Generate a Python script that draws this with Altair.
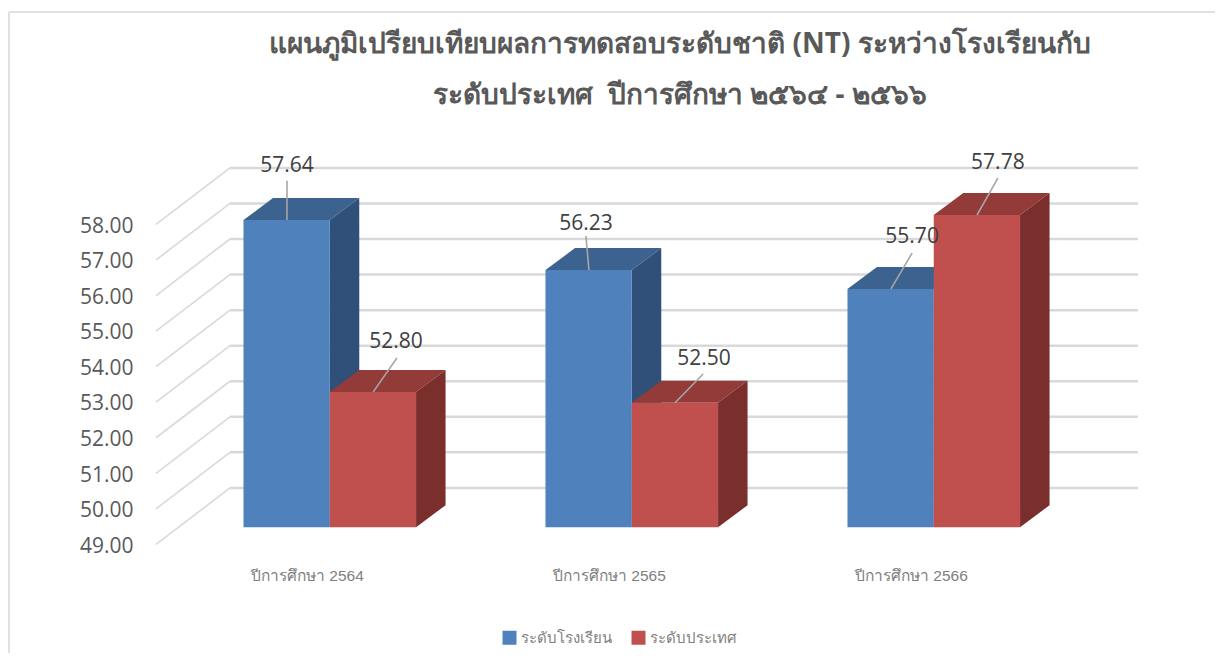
import altair as alt
import pandas as pd

# Values
years = ["ปีการศึกษา 2564", "ปีการศึกษา 2565", "ปีการศึกษา 2566"]
series_names = ["ระดับโรงเรียน", "ระดับประเทศ"]
school = [57.64, 56.23, 55.70]
country = [52.80, 52.50, 57.78]
ticks = [49, 50, 51, 52, 53, 54, 55, 56, 57, 58]
title_lines = ["แผนภูมิเปรียบเทียบผลการทดสอบระดับชาติ (NT) ระหว่างโรงเรียนกับ",
               "ระดับประเทศ\u00a0\u00a0ปีการศึกษา ๒๕๖๔ - ๒๕๖๖"]

# label anchors (group units, value units)
label_x = {"s": [0.144, 1.134, 2.214], "c": [0.505, 1.525, 2.498]}
label_v = {"s": [59.216, 57.585, 57.22], "c": [54.267, 53.789, 59.301]}
lead_x = {"s": [0.144, 1.134, 2.214], "c": [0.508, 1.522, 2.498]}
lead_v = {"s": [58.74, 57.19, 56.71], "c": [53.76, 53.31, 58.82]}
lead_end = {"s": [0.144, 1.144, 2.144], "c": [0.429, 1.429, 2.429]}

BASE = 49.0
W = 0.2857     # bar width in group units
DX = 0.0977    # depth, group units
DV = 0.619     # depth, value units
BACK_V = 1.105
FRONT_V = -0.484
WALL_L = -0.2897
WALL_B = -0.0447
WALL_R = 2.962

GREY = "#D9D9D9"
FRONT = ["#4F81BD", "#C0504D"]
TOP = ["#3C628F", "#933B39"]
SIDE = ["#30507A", "#7A2F2D"]

xs = alt.Scale(domain=[WALL_L, WALL_R], nice=False, zero=False)
ys = alt.Scale(domain=[48.5, 59.608], nice=False, zero=False)

def X(f, **k):
    return alt.X(f, type="quantitative", scale=xs, axis=None, title=None, **k)

def Y(f, **k):
    return alt.Y(f, type="quantitative", scale=ys, axis=None, title=None, stack=None, **k)

# walls
grid = pd.DataFrame({
    "tick": ticks,
    "back": [t + BACK_V for t in ticks],
    "front": [t + FRONT_V for t in ticks],
    "xl": [WALL_L] * len(ticks),
    "xb": [WALL_B] * len(ticks),
    "xr": [WALL_R] * len(ticks),
})
one = pd.DataFrame({"a": [0]})

axis_layer = alt.Chart(grid).mark_point(opacity=0).encode(
    x=alt.X("xb:Q", scale=xs, title=None, axis=alt.Axis(
        values=[0.21, 1.21, 2.21],
        labelExpr="{0.21:'%s',1.21:'%s',2.21:'%s'}[datum.value]" % tuple(years),
        labelFont="Liberation Sans", labelFontSize=15.5, labelColor="#7F7F7F",
        labelPadding=23, ticks=False, domain=False, grid=False)),
    y=alt.Y("tick:Q", scale=ys, title=None, axis=alt.Axis(
        values=ticks, format=".2f", labelFont="Open Sans", labelFontSize=21,
        labelColor="#595959", labelOffset=19, labelPadding=23,
        ticks=False, domain=False, grid=False)),
)

frame_top = alt.Chart(one).mark_rule(color="#E0E0E0", strokeWidth=2).encode(
    x=alt.value(-147), x2=alt.value(1059), y=alt.value(-138))
frame_left = alt.Chart(one).mark_rule(color="#E0E0E0", strokeWidth=2).encode(
    x=alt.value(-147), y=alt.value(-138), y2=alt.value(503))

back_lines = alt.Chart(grid).mark_rule(color=GREY, strokeWidth=2.5).encode(
    x=X("xb"), x2="xr:Q", y=Y("back"))
side_lines = alt.Chart(grid).mark_rule(color=GREY, strokeWidth=1.6).encode(
    x=X("xl"), x2="xb:Q", y=Y("front"), y2="back:Q")

def boxes(vals, start, idx):
    top_rows, side_rows, front_rows = [], [], []
    for i, v in enumerate(vals):
        x0 = i + start
        for x, lo, hi in [(x0, v, v), (x0 + DX, v, v + DV), (x0 + W, v, v + DV), (x0 + W + DX, v + DV, v + DV)]:
            top_rows.append({"g": i, "x": x, "lo": lo, "hi": hi})
        for x, lo, hi in [(x0 + W, BASE, v), (x0 + W + DX, BASE + DV, v + DV)]:
            side_rows.append({"g": i, "x": x, "lo": lo, "hi": hi})
        front_rows.append({"x": x0, "x2": x0 + W, "lo": BASE, "hi": v, "series": series_names[idx]})
    top = alt.Chart(pd.DataFrame(top_rows)).mark_area(color=TOP[idx], interpolate="linear").encode(
        x=X("x"), y=Y("lo"), y2="hi:Q", detail="g:N")
    side = alt.Chart(pd.DataFrame(side_rows)).mark_area(color=SIDE[idx], interpolate="linear").encode(
        x=X("x"), y=Y("lo"), y2="hi:Q", detail="g:N")
    front = alt.Chart(pd.DataFrame(front_rows)).mark_rect().encode(
        x=X("x"), x2="x2:Q", y=Y("lo"), y2="hi:Q",
        color=alt.Color("series:N", title=None,
                        scale=alt.Scale(domain=series_names, range=FRONT),
                        sort=series_names,
                        legend=alt.Legend(orient="none", legendX=346, legendY=480,
                                          direction="horizontal", columns=2,
                                          symbolType="square", symbolSize=196,
                                          symbolStrokeWidth=0, columnPadding=19,
                                          labelFont="Liberation Sans", labelFontSize=15,
                                          labelColor="#7F7F7F")))
    return [top, side, front]

lab_rows = []
for key, vals in (("s", school), ("c", country)):
    for i, v in enumerate(vals):
        lab_rows.append({"value": v, "lx": label_x[key][i], "lv": label_v[key][i],
                         "tx": lead_x[key][i], "tv": lead_v[key][i], "ex": lead_end[key][i]})
labs = pd.DataFrame(lab_rows)

leaders = alt.Chart(labs).mark_rule(color="#A6A6A6", strokeWidth=1.6).encode(
    x=X("tx"), x2="ex:Q", y=Y("tv"), y2="value:Q")
texts = alt.Chart(labs).mark_text(font="Open Sans", fontSize=21, color="#404040", dy=2).encode(
    x=X("lx"), y=Y("lv"), text=alt.Text("value:Q", format=".2f"))

chart = alt.layer(
    axis_layer, frame_top, frame_left, back_lines, side_lines,
    *boxes(school, 0.0, 0), *boxes(country, W, 1),
    leaders, texts,
).resolve_axis(x="independent", y="independent").properties(
    width=982, height=395,
    autosize=alt.AutoSizeParams(type="none"),
    padding={"left": 148, "top": 142, "right": 77, "bottom": 108},
    title=alt.TitleParams(text=title_lines, anchor="middle", dx=33, offset=-99,
                          font="Noto Sans", fontSize=28, fontWeight="bold",
                          color="#595959", lineHeight=51),
).configure_view(stroke=None)

chart.save("out.html", embed_options={"renderer": "svg", "actions": False})
